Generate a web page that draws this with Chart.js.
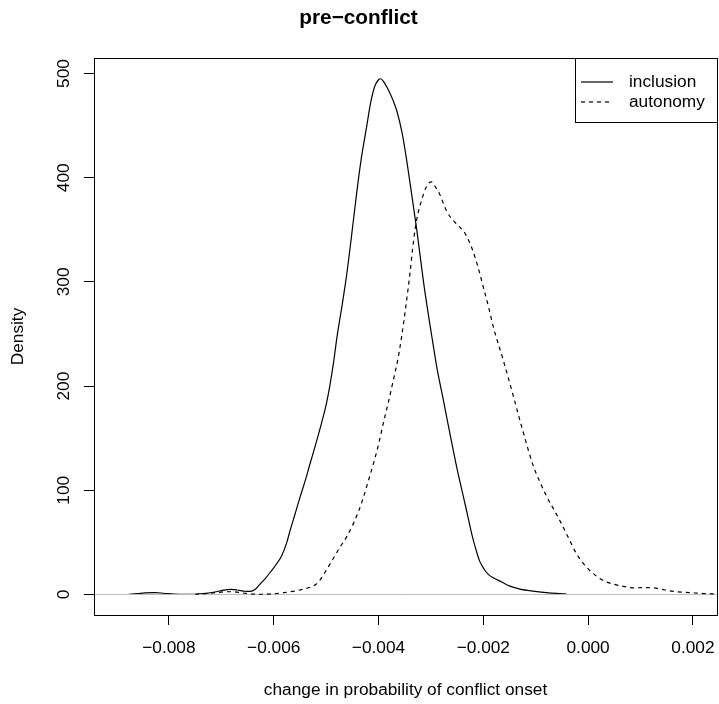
<!DOCTYPE html>
<html>
<head>
<meta charset="utf-8">
<script src="https://cdn.jsdelivr.net/npm/chart.js@4.4.1/dist/chart.umd.min.js"></script>
<style>
  html, body { margin: 0; padding: 0; background: #fff; }
  #wrap { width: 719px; height: 704px; }
</style>
</head>
<body>
<div id="wrap"><canvas id="density-chart" width="719" height="704"></canvas></div>
<script>
// estimated from the reference plot (kernel density of simulated effects)
var inclusionX = [
  -0.00878, -0.0086, -0.00845, -0.00827, -0.0081, -0.0079, -0.0077, -0.0075, -0.0073, -0.0071,
  -0.00695, -0.00682, -0.0067, -0.00655, -0.00645, -0.00635, -0.00626, -0.00615, -0.00604, -0.00595,
  -0.00585, -0.00575, -0.00569, -0.0056, -0.0055, -0.0054, -0.00531, -0.0052, -0.00509, -0.005,
  -0.00493, -0.00486, -0.00479, -0.0047, -0.00461, -0.00452, -0.00442, -0.00433, -0.00423, -0.00415,
  -0.00407, -0.004, -0.00396, -0.0039, -0.0038, -0.00372, -0.00365, -0.00355, -0.00346, -0.00337,
  -0.00327, -0.00313, -0.00299, -0.00288, -0.00276, -0.00264, -0.00252, -0.00245, -0.00238, -0.0023,
  -0.00222, -0.00214, -0.00207, -0.00198, -0.0019, -0.00181, -0.00165, -0.00149, -0.0013, -0.00105,
  -0.0008, -0.0006, -0.00042
];
var inclusionY = [
  0, 0.8, 1.5, 1.8, 1.2, 0.4, 0.1, 0.2, 1, 2.6,
  4.2, 4.8, 4.3, 3.1, 2.9, 5, 10, 16, 23, 29,
  37, 50, 61, 76, 93, 109, 125, 144, 164, 182,
  200, 222, 248, 276, 306, 342, 384, 418, 448, 472,
  488, 494, 495, 492, 483, 474, 464, 443, 416, 385,
  350, 296, 250, 216, 186, 155, 125, 109, 94, 76,
  58, 43, 32, 24, 19, 16, 12, 8, 5.2, 3.2,
  1.8, 1, 0.5
];

var autonomyX = [
  -0.0075, -0.0073, -0.0071, -0.0069, -0.0068, -0.0066, -0.00639, -0.0062, -0.00601, -0.0058,
  -0.0056, -0.0055, -0.0054, -0.0053, -0.0052, -0.0051, -0.005, -0.00487, -0.00474, -0.0046,
  -0.00448, -0.00438, -0.00429, -0.0042, -0.0041, -0.004, -0.00391, -0.00381, -0.00372, -0.00363,
  -0.00356, -0.00348, -0.0034, -0.00333, -0.00327, -0.00318, -0.00308, -0.00299, -0.0029, -0.00283,
  -0.00276, -0.0027, -0.00264, -0.0025, -0.00238, -0.0023, -0.0022, -0.0021, -0.002, -0.0019,
  -0.00181, -0.00162, -0.00143, -0.00124, -0.00105, -0.00092, -0.00079, -0.00066, -0.00054, -0.00038,
  -0.00022, -0.00006, 0.0001, 0.0003, 0.00048, 0.0007, 0.00086, 0.00105, 0.00125, 0.0014,
  0.0016, 0.0018, 0.002, 0.0022, 0.00246
];
var autonomyY = [
  0.2, 0.8, 1.8, 2.6, 2.6, 1.5, 0.3, 0.2, 0.7, 1.8,
  3.3, 4.3, 5.5, 7, 9.5, 15, 23, 34, 45, 56,
  68, 80, 93, 108, 125, 144, 164, 185, 205, 226,
  247, 276, 308, 340, 360, 378, 392, 396, 390, 384,
  375, 368, 363, 355, 349, 342, 330, 314, 295, 276,
  257, 225, 191, 156, 124, 108, 94, 82, 71, 55,
  39, 28, 20, 13, 10, 7.5, 6.4, 6.5, 6.3, 5,
  3.2, 2.2, 1.5, 0.9, 0.5
];

var xRange = [-0.00943, 0.00246];
var yRange = [-19.7, 514.9];
var xTicks = [-0.008, -0.006, -0.004, -0.002, 0, 0.002];
var yTicks = [0, 100, 200, 300, 400, 500];
var seriesLabels = ['inclusion', 'autonomy'];

var FONT = "'Liberation Sans', Arial, Helvetica, sans-serif";

function toPoints(xs, ys) {
  var pts = [];
  for (var i = 0; i < xs.length; i++) pts.push({ x: xs[i], y: ys[i] });
  return pts;
}

function fmtTick(v) {
  var s = Math.abs(v).toFixed(3);
  return v < 0 ? '\u2212' + s : s;
}

// plot box + legend box drawn like base R graphics
var boxPlugin = {
  id: 'rBox',
  afterDraw: function (chart) {
    var ctx = chart.ctx;
    var a = chart.chartArea;
    ctx.save();
    ctx.strokeStyle = '#000';
    ctx.lineWidth = 1;
    ctx.setLineDash([]);
    ctx.strokeRect(a.left + 0.5, a.top + 0.5, a.right - a.left, a.bottom - a.top);

    // legend in the top right corner
    var w = 142, h = 64;
    var lx = a.right - w, ly = a.top;
    ctx.fillStyle = '#fff';
    ctx.fillRect(lx + 0.5, ly + 0.5, w, h);
    ctx.strokeRect(lx + 0.5, ly + 0.5, w, h);
    ctx.font = '17.3px ' + FONT;
    ctx.textBaseline = 'middle';
    ctx.textAlign = 'left';
    var items = chart.data.datasets.filter(function (d) { return d.label; });
    items.forEach(function (d, i) {
      var y = ly + 24 + i * 20;
      ctx.beginPath();
      ctx.strokeStyle = d.borderColor;
      ctx.lineWidth = d.borderWidth;
      ctx.setLineDash(d.borderDash || []);
      ctx.moveTo(lx + 6, y);
      ctx.lineTo(lx + 38, y);
      ctx.stroke();
      ctx.fillStyle = '#000';
      ctx.fillText(d.label, lx + 54, y);
    });
    ctx.restore();
  }
};

new Chart(document.getElementById('density-chart'), {
  type: 'line',
  data: {
    datasets: [
      {
        label: seriesLabels[0],
        data: toPoints(inclusionX, inclusionY),
        borderColor: '#000',
        borderWidth: 1.2,
        pointRadius: 0,
        fill: false,
        cubicInterpolationMode: 'monotone',
        order: 3
      },
      {
        label: '',
        data: toPoints(xRange, [0, 0]),
        borderColor: '#bebebe',
        borderWidth: 1,
        pointRadius: 0,
        fill: false,
        order: 2
      },
      {
        label: seriesLabels[1],
        data: toPoints(autonomyX, autonomyY),
        borderColor: '#000',
        borderWidth: 1.2,
        borderDash: [4, 4],
        pointRadius: 0,
        fill: false,
        cubicInterpolationMode: 'monotone',
        order: 1
      }
    ]
  },
  options: {
    responsive: false,
    animation: false,
    events: [],
    layout: { padding: { top: 0, right: 2, bottom: 0, left: 0 } },
    plugins: {
      legend: { display: false },
      tooltip: { enabled: false },
      title: {
        display: true,
        text: 'pre\u2212conflict',
        color: '#000',
        font: { family: FONT, size: 20.8, weight: 'bold' },
        padding: { top: 5.4, bottom: 27.64 }
      }
    },
    scales: {
      x: {
        type: 'linear',
        min: xRange[0],
        max: xRange[1],
        afterBuildTicks: function (s) {
          s.ticks = xTicks.map(function (v) { return { value: v }; });
        },
        afterFit: function (s) {
          s.height = 89;
          s.paddingLeft = 0;
          s.paddingRight = 0;
        },
        grid: { drawOnChartArea: false, drawTicks: true, tickLength: 10, color: '#000', lineWidth: 1 },
        border: { display: false },
        ticks: {
          color: '#000',
          font: { family: FONT, size: 17.3 },
          padding: 12.6,
          maxRotation: 0,
          autoSkip: false,
          callback: function (v) { return fmtTick(v); }
        },
        title: {
          display: true,
          text: 'change in probability of conflict onset',
          color: '#000',
          font: { family: FONT, size: 17.3 },
          padding: { top: 0, bottom: 3.6 }
        }
      },
      y: {
        type: 'linear',
        min: yRange[0],
        max: yRange[1],
        afterBuildTicks: function (s) {
          s.ticks = yTicks.map(function (v) { return { value: v }; });
        },
        afterFit: function (s) {
          s.width = 94;
          s.paddingTop = 0;
          s.paddingBottom = 0;
        },
        grid: { drawOnChartArea: false, drawTicks: true, tickLength: 10, color: '#000', lineWidth: 1 },
        border: { display: false },
        ticks: {
          color: '#000',
          font: { family: FONT, size: 17.3 },
          padding: 5.5,
          minRotation: 90,
          maxRotation: 90,
          crossAlign: 'center',
          autoSkip: false,
          callback: function (v) { return String(v); }
        },
        title: {
          display: true,
          text: 'Density',
          color: '#000',
          font: { family: FONT, size: 17.3 },
          padding: { top: 7.6, bottom: 0 }
        }
      }
    }
  },
  plugins: [boxPlugin]
});
</script>
</body>
</html>
